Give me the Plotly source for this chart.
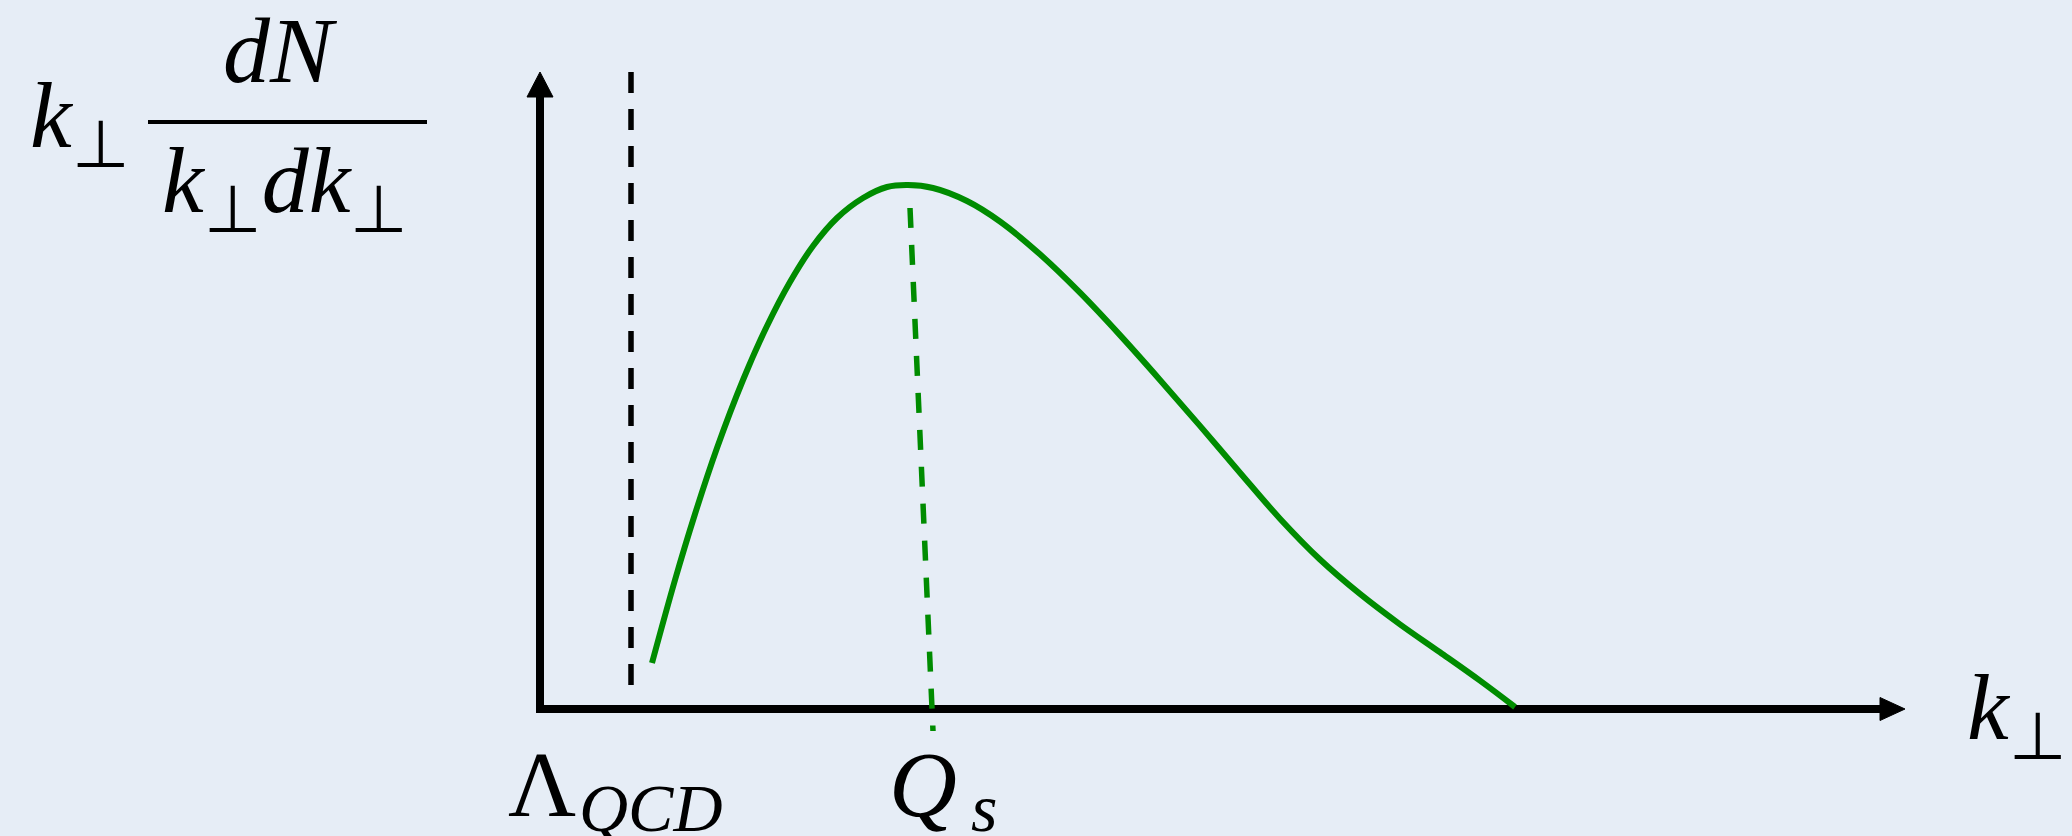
import plotly.graph_objects as go

W, H = 2072, 836

# Spectrum k_perp dN/(k_perp dk_perp) versus k_perp (arbitrary units)
k_perp = [1.12, 1.35, 1.55, 1.77, 2.03, 2.27, 2.50, 2.73, 2.97, 3.23, 3.47, 3.68,
          3.93, 4.27, 4.60, 5.00, 5.40, 5.80, 6.20, 6.60, 7.00, 7.40, 7.80, 8.20,
          8.60, 9.00, 9.40, 9.75]
spectrum = [0.46, 1.29, 1.95, 2.61, 3.29, 3.83, 4.27, 4.63, 4.91, 5.11, 5.22, 5.24,
            5.21, 5.08, 4.875, 4.547, 4.163, 3.739, 3.291, 2.831, 2.363, 1.903, 1.495,
            1.151, 0.847, 0.567, 0.283, 0.02]

# Lambda_QCD marker (vertical dashed line)
lambda_k = [0.91, 0.91]
lambda_y = [6.37, 0.19]

# Saturation scale Q_s marker (dashed line from the peak down to the axis)
qs_k = [3.70, 3.93]
qs_y = [5.01, -0.22]

# Axis extents (arrow tips)
x_axis_end = 13.65
y_axis_end = 6.37

X_RANGE = [-5.40, 15.32]
Y_RANGE = [-1.27, 7.09]

BG = "#e6edf6"
GREEN = "#008c00"
FONT = "Liberation Serif"
FS = 94

fig = go.Figure()

# axes drawn as an L-shaped line with triangular arrow heads
head_len, head_half = 0.25, 0.13
fig.add_trace(go.Scatter(
    x=[0, 0, x_axis_end - head_len + 0.02], y=[y_axis_end - head_len + 0.02, 0, 0],
    mode="lines", line=dict(color="black", width=8), hoverinfo="skip"))
fig.add_trace(go.Scatter(
    x=[-head_half, head_half, 0, -head_half],
    y=[y_axis_end - head_len, y_axis_end - head_len, y_axis_end, y_axis_end - head_len],
    mode="lines", fill="toself", fillcolor="black", line=dict(color="black", width=1),
    hoverinfo="skip"))
fig.add_trace(go.Scatter(
    x=[x_axis_end - head_len, x_axis_end - head_len, x_axis_end, x_axis_end - head_len],
    y=[0.115, -0.115, 0, 0.115],
    mode="lines", fill="toself", fillcolor="black", line=dict(color="black", width=1),
    hoverinfo="skip"))

# Lambda_QCD dashed line
fig.add_trace(go.Scatter(
    x=lambda_k, y=lambda_y, mode="lines",
    line=dict(color="black", width=5.5, dash="21px,16px"), hoverinfo="skip"))

# Q_s dashed line
fig.add_trace(go.Scatter(
    x=qs_k, y=qs_y, mode="lines",
    line=dict(color=GREEN, width=5.5, dash="20px,17px"), hoverinfo="skip"))

# spectrum curve
fig.add_trace(go.Scatter(
    x=k_perp, y=spectrum, mode="lines",
    line=dict(color=GREEN, width=6, shape="spline", smoothing=1.0), hoverinfo="skip"))

KP = "<i>k</i><sub>⊥</sub>"


def label(text, x, y, xanchor="center", yanchor="middle", size=FS):
    fig.add_annotation(
        text=text, x=x, y=y, xref="x", yref="y", showarrow=False,
        xanchor=xanchor, yanchor=yanchor,
        font=dict(family=FONT, size=size, color="black"))


# y-axis label: k_perp dN / (k_perp dk_perp)
label(KP, -5.12, 5.87, xanchor="left")
label("<i>dN</i>", -2.60, 6.59)
label(KP + "<i>dk</i><sub>⊥</sub>", -2.55, 5.22)
fig.add_shape(type="line", x0=-3.92, x1=-1.13, y0=5.87, y1=5.87, xref="x", yref="y",
              line=dict(color="black", width=4))

# x-axis labels
label("Λ", 0.02, -0.75, xanchor="center")
label("<i>QCD</i>", 0.37, -0.99, xanchor="left", size=68)
label("<i>Q</i>", 3.83, -0.75, xanchor="center")
label("<i>s</i>", 4.29, -0.99, xanchor="left", size=68)
label(KP, 14.25, -0.05, xanchor="left")

fig.update_layout(
    width=W, height=H,
    margin=dict(l=0, r=0, t=0, b=0),
    paper_bgcolor=BG, plot_bgcolor=BG,
    showlegend=False,
    xaxis=dict(range=X_RANGE, visible=False, fixedrange=True),
    yaxis=dict(range=Y_RANGE, visible=False, fixedrange=True),
)

fig.write_html("out.html")
